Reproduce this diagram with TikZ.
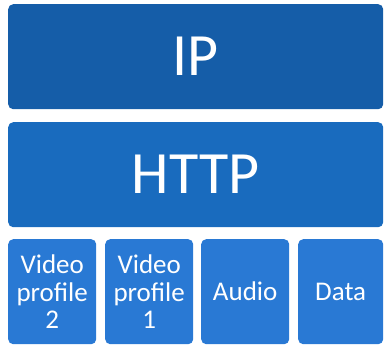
\documentclass[tikz,border=0pt]{standalone}
\usepackage{fontspec}
\setmainfont{Carlito}
\definecolor{ipblue}{HTML}{155DA8}
\definecolor{httpblue}{HTML}{196BBE}
\definecolor{mediablue}{HTML}{2979D4}
\begin{document}
\begin{tikzpicture}[x=1pt,y=-1pt,
  layer/.style={rounded corners=5pt,inner sep=0pt,text=white,anchor=north west,align=center},
  media/.style={layer,fill=mediablue,minimum width=88pt,minimum height=105pt,font=\fontsize{27}{27.5}\selectfont}]
  \useasboundingbox (0,0) rectangle (384,346);
  \node [layer,fill=ipblue,minimum width=375pt,minimum height=105pt,font=\fontsize{60}{60}\selectfont] (ip) at (8,4) {IP};
  \node [layer,fill=httpblue,minimum width=375pt,minimum height=105pt,font=\fontsize{60}{60}\selectfont] (http) at (8,122) {HTTP};
  \node [media] (vp2) at (8,239) {Video\\profile\\2};
  \node [media] (vp1) at (105,239) {Video\\profile\\1};
  \node [media] (audio) at (201,239) {Audio};
  \node [media,minimum width=85pt] (data) at (298,239) {Data};
\end{tikzpicture}
\end{document}
